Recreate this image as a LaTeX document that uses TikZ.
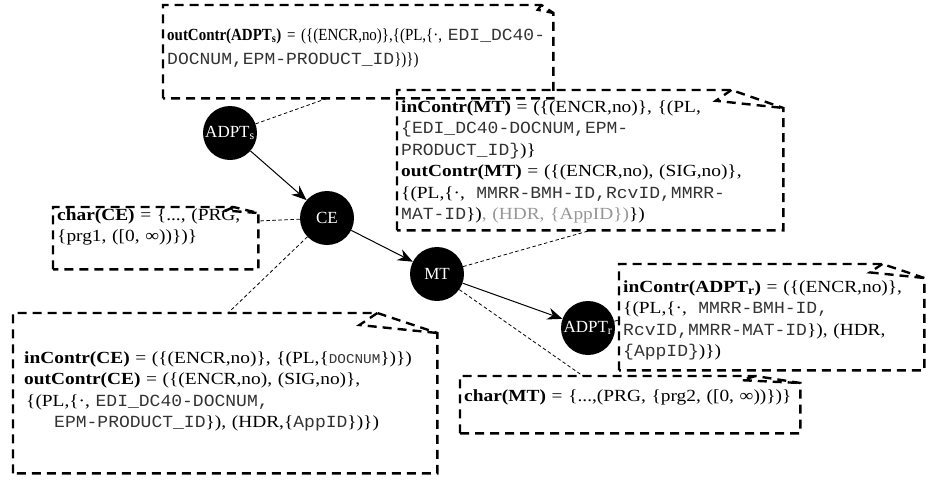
\documentclass[tikz,border=0pt]{standalone}
\usepackage{fontspec}
\setmainfont{Liberation Serif}[FakeStretch=1.14]
\setmonofont{Liberation Mono}[FakeStretch=1.06, Color=333333]
\newfontfamily\circfont{Liberation Serif}
\newfontfamily\narrowfont{Liberation Serif}[FakeStretch=0.88]
\usetikzlibrary{arrows.meta}
\definecolor{HdrGray}{RGB}{150,150,150}
\tikzset{
  actor/.style={circle, fill=black, minimum size=54pt, inner sep=0pt,
                text=white, font=\circfont\fontsize{17}{17}\selectfont},
  note/.style={anchor=north west, inner xsep=4pt, inner ysep=0pt, align=left,
               font=\fontsize{17}{21.5}\selectfont},
  notebox/.style={line width=2.4pt, dash pattern=on 9pt off 6pt},
  link/.style={line width=0.8pt, dash pattern=on 3.5pt off 2.5pt},
  arr/.style={-{Stealth[length=15pt, width=12pt]}, line width=1pt}
}
\newcommand{\smalltt}[1]{{\fontsize{13.5}{21}\selectfont\texttt{#1}}}
\newcommand{\foldnote}[3]{%
  \draw[notebox] (#1.south west) -- (#1.north west) -- ([xshift=-#2pt]#1.north east)
    -- ([yshift=-#3pt]#1.north east) -- (#1.south east) -- cycle;
  \draw[notebox] ([xshift=-#2pt]#1.north east) -- ([xshift=-1.3*#2pt, yshift=-0.6*#3pt]#1.north east)
    -- ([yshift=-#3pt]#1.north east);
}
\begin{document}
\begin{tikzpicture}[x=1pt, y=-1pt]
\useasboundingbox (0,0) rectangle (928,479);
% processing chain
\node[actor] (ADPTs) at (230,133) {ADPT\textsubscript{s}};
\node[actor] (CE) at (327,218) {CE};
\node[actor] (MT) at (437,274) {MT};
\node[actor] (ADPTr) at (588,328) {ADPT\textsubscript{r}};
\draw[arr] (ADPTs) -- (CE);
\draw[arr] (CE) -- (MT);
\draw[arr] (MT) -- (ADPTr);
% contract notes
\node[note, text width=382pt, text height=35pt, text depth=58pt] (ADPTsout) at (163,5)
  {\narrowfont\mbox{\textbf{outContr(ADPT\textsubscript{s})} = (\{(ENCR,no)\},\{(PL,\{·,~\texttt{EDI\_DC40-}}\\[2.5pt]
   \texttt{DOCNUM,EPM-PRODUCT\_ID}\})\})};
\foldnote{ADPTsout}{12}{8}
\node[note, text width=378pt, text height=22pt, text depth=118pt] (MTcontr) at (397,90)
  {\textbf{inContr(MT)} = (\{(ENCR,no)\}, \{(PL,\\
   \texttt{\{EDI\_DC40-DOCNUM,EPM-}\\
   \texttt{PRODUCT\_ID\}})\}\\
   \textbf{outContr(MT)} = (\{(ENCR,no), (SIG,no)\},\\
   \{(PL,\{·, \texttt{ MMRR-BMH-ID,RcvID,MMRR-}\\
   \texttt{MAT-ID}\}){\color{HdrGray}, (HDR, \{AppID\})}\})};
\foldnote{MTcontr}{52}{18}
\node[note, text width=197pt, text height=13pt, text depth=49pt] (CEchar) at (53,207)
  {\textbf{char(CE)} = \{..., (PRG,\\
   \{prg1, ([0, ∞))\})\}};
\foldnote{CEchar}{25}{6}
\node[note, inner xsep=11pt, text width=402pt, text height=50pt, text depth=110pt] (CEcontr) at (13,313)
  {\textbf{inContr(CE)} = (\{(ENCR,no)\}, \{(PL,\{\smalltt{DOCNUM}\})\})\\
   \textbf{outContr(CE)} = (\{(ENCR,no), (SIG,no)\},\\
   \hspace*{2pt}\{(PL,\{·, \texttt{EDI\_DC40-DOCNUM,}\\
   \hspace*{30pt}\texttt{EPM-PRODUCT\_ID}\}), (HDR,\{\texttt{AppID}\})\})};
\foldnote{CEcontr}{60}{20}
\node[note, text width=332pt, text height=25pt, text depth=32pt] (MTchar) at (460,376)
  {\mbox{\textbf{char(MT)} = \{...,(PRG, \{prg2, ([0, ∞))\})\}}};
\foldnote{MTchar}{45}{7}
\node[note, text width=297pt, text height=28pt, text depth=78pt] (ADPTrin) at (619,264)
  {\textbf{inContr(ADPT\textsubscript{r})} = (\{(ENCR,no)\},\\
   \{(PL,\{·, \texttt{ MMRR-BMH-ID,}\\
   \texttt{RcvID,MMRR-MAT-ID}\}), (HDR,\\
   \texttt{\{AppID\}})\})};
\foldnote{ADPTrin}{42}{14}
% annotation links
\draw[link] (ADPTs) -- ([xshift=164pt]ADPTsout.south west);
\draw[link] (CE) -- ([yshift=-14pt]CEchar.north east);
\draw[link] (CE) -- ([xshift=215pt]CEcontr.north west);
\draw[link] (MT) -- ([xshift=-193pt]MTcontr.south east);
\draw[link] (MT) -- ([xshift=123pt]MTchar.north west);
\draw[link] (ADPTr) -- ([yshift=-56pt]ADPTrin.north west);
\end{tikzpicture}
\end{document}
